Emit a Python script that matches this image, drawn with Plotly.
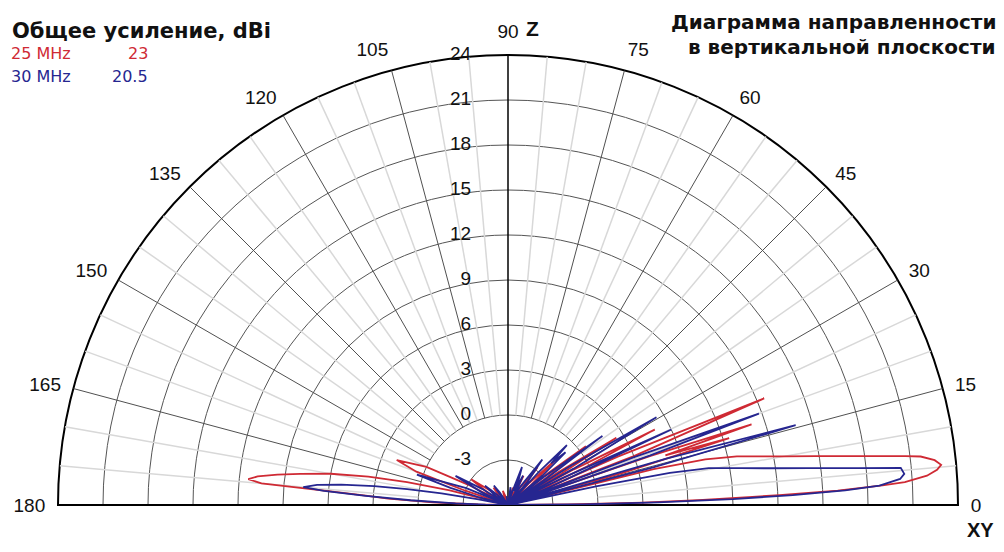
import plotly.graph_objects as go

# ---------------- data ----------------
freq_labels = ["25 MHz", "30 MHz"]
max_gain_labels = ["23", "20.5"]

# 25 MHz pattern (elevation angle, deg / total gain, dBi)
theta_25 = [0, 0.5, 1.0, 1.5, 1.9, 2.1, 2.5, 3.0, 3.3, 4.0, 4.7, 5.3, 6.0, 6.7, 7.0, 8.0, 9.0, 10.0, 11.0, 12.0, 13.0, 13.8, 14.6,
            15.6, 16.8, 17.5, 18.3, 19.0, 19.8,
            21.2, 22.6, 23.8, 25.0,
            26.0, 27.2, 28.4, 29.4,
            30.4, 31.8, 33.2, 34.2,
            35.2, 37.0, 38.8, 40.0,
            41.0, 43.5, 46.0, 47.5,
            49.0, 52.0, 55.0, 57.0,
            59.0, 62.0, 65.0, 67.0,
            70.0, 74.0, 78.0, 82.0,
            90.0, 100.0,
            104.0, 110.0, 116.0, 120.0,
            124.0, 130.0, 135.0, 138.0,
            141.0, 145.0, 149.0, 151.0,
            153.0, 155.0, 158.0, 160.0, 161.5, 163.0,
            165.0, 166.0, 167.2, 168.5, 170.0, 171.5, 172.5, 173.5, 174.3, 175.0, 175.3, 175.6, 176.2, 177.0, 178.0, 179.0, 180.0]
gain_25 = [-6, -2, 3, 7, 10.3, 12.1, 16, 19, 20.5, 22, 22.7, 23, 22.6, 21.7, 20.7, 17.4, 14.8, 12.7, 11, 9.6, 7.5, 4, -6,
           2, 9.4, 5, 11.1, 4, -6,
           3, 12.5, 2, -6,
           0, 5, -1, -6,
           -2, 2.5, -2, -6,
           -3, 0.5, -3, -6,
           -4, -1.5, -4, -6,
           -4.5, -2.8, -4.5, -6,
           -5, -3.8, -5, -6,
           -5.5, -4.8, -5.5, -6,
           -6, -6,
           -5.5, -5, -5.5, -6,
           -5.2, -4.5, -5.2, -6,
           -4.5, -3, -4.5, -6,
           -3, 0, 2, 0.5, -3, -6,
           -6, -2, 0.9, 3.5, 6, 8, 9.5, 10.8, 11.4, 10.5, 7.9, 6, 3.5, 2, -1, -4, -6]

# 30 MHz pattern
theta_30 = [0, 0.5, 1.0, 1.5, 2.0, 2.5, 3.0, 3.8, 4.5, 5.4, 6.0, 7.0, 8.0, 9.0, 10.4, 11.2, 12.0, 12.8,
            13.6, 14.5, 15.5, 16.3, 17.2,
            18.6, 19.2, 20.0, 20.8, 21.8,
            23.0, 24.8, 26.4, 27.8,
            29.0, 30.6, 32.0, 33.2,
            34.5, 36.2, 38.0, 39.2,
            40.5, 42.5, 44.0, 45.5, 47.0, 48.5,
            50.0, 53.0, 56.0, 58.0,
            60.0, 63.0, 65.5, 67.0, 69.8, 72.0, 74.0,
            77.0, 82.0, 86.0,
            95.0, 100.0, 106.0,
            120.0, 123.0, 126.0, 129.0, 131.0,
            136.0, 140.0, 144.0, 146.0,
            148.0, 151.0, 154.0, 156.0,
            158.0, 161.6, 163.5, 165.0, 168.0,
            169.0, 170.0, 171.0, 172.0, 173.0, 174.0, 175.0, 175.6, 176.3, 177.2, 178.3, 179.2, 180.0]
gain_30 = [-6, -1, 4, 9, 13, 16.5, 18.8, 20.2, 20.5, 20.3, 17.5, 14.2, 11.6, 9.7, 7.6, 5, 0, -6,
           -6, 4, 13.9, 5, -6,
           -4, 4, 11.8, 3, -6,
           -3, 6, -2, -6,
           -1, 5.5, -1, -6,
           -3, 1.8, -3, -6,
           -3, -0.8, -2, -0.4, -3, -6,
           -4, -2.2, -4.5, -6,
           -4.8, -3.8, -5, -4.2, -3.3, -5, -6,
           -5.2, -4.8, -6,
           -6, -5.4, -6,
           -6, -5, -4.4, -5.5, -6,
           -5, -4, -5, -6,
           -4, -2, -4, -6,
           -3, 0.4, -2, -4, -6,
           -4, -1.5, 0.8, 3, 5.2, 6.8, 7.7, 6.3, 3.5, 0.5, -2.5, -4.5, -6]

ring_ticks = [-3, 0, 3, 6, 9, 12, 15, 18, 21, 24]
angle_ticks = [0, 15, 30, 45, 60, 75, 90, 105, 120, 135, 150, 165, 180]
minor_angles = [a for a in range(5, 180, 5) if a % 15 != 0]

R_MIN, R_MAX = -6, 24
GRID_START = 0

RED = "#cf2a34"
BLUE = "#262690"
FONT = "Liberation Sans, Arial, sans-serif"
TITLE_FONT = "DejaVu Sans, Liberation Sans, Arial, sans-serif"

# page body has an 8px margin: figure is shifted by OFF
OFF = 8
W, H = 1004 - OFF, 552 - 2 * OFF


def px(x):
    return (x - OFF) / W


def py(y):
    return 1 - (y - OFF) / H


fig = go.Figure()

# light 5-degree spokes
r_minor, t_minor = [], []
for a in minor_angles:
    r_minor += [GRID_START, R_MAX, None]
    t_minor += [a, a, None]
fig.add_trace(go.Scatterpolar(r=r_minor, theta=t_minor, mode="lines",
                              line=dict(color="#d8d8d8", width=1.5),
                              hoverinfo="skip", showlegend=False))

# dark 15-degree spokes
r_major, t_major = [], []
for a in angle_ticks:
    if a in (0, 90, 180):
        continue
    r_major += [GRID_START, R_MAX, None]
    t_major += [a, a, None]
fig.add_trace(go.Scatterpolar(r=r_major, theta=t_major, mode="lines",
                              line=dict(color="#505050", width=1),
                              hoverinfo="skip", showlegend=False))

# base line 0-180 and vertical axis (Z)
fig.add_trace(go.Scatterpolar(r=[R_MAX, R_MIN, R_MAX], theta=[0, 0, 180], mode="lines",
                              line=dict(color="black", width=2),
                              hoverinfo="skip", showlegend=False))
fig.add_trace(go.Scatterpolar(r=[R_MIN, R_MAX], theta=[90, 90], mode="lines",
                              line=dict(color="black", width=1.5),
                              hoverinfo="skip", showlegend=False))

# radial tick labels along the Z axis
fig.add_trace(go.Scatterpolar(r=ring_ticks, theta=[90] * len(ring_ticks), mode="text",
                              text=[str(v) + "\u00a0" * 7 for v in ring_ticks],
                              textposition="middle left",
                              textfont=dict(family=FONT, size=19, color="#111111"),
                              hoverinfo="skip", showlegend=False))

# patterns
fig.add_trace(go.Scatterpolar(r=gain_25, theta=theta_25, mode="lines", name=freq_labels[0],
                              line=dict(color=RED, width=1.8), showlegend=False))
fig.add_trace(go.Scatterpolar(r=gain_30, theta=theta_30, mode="lines", name=freq_labels[1],
                              line=dict(color=BLUE, width=1.8), showlegend=False))

cx0, cx1 = 58, 958
cy_top, cy_bot = 55, 505

fig.update_layout(
    width=W, height=H,
    margin=dict(l=0, r=0, t=0, b=0),
    paper_bgcolor="white",
    plot_bgcolor="white",
    showlegend=False,
    polar=dict(
        domain=dict(x=[px(cx0), px(cx1)], y=[py(cy_bot), py(cy_top)]),
        sector=[0, 180],
        bgcolor="white",
        radialaxis=dict(
            range=[R_MIN, R_MAX],
            tickvals=ring_ticks,
            angle=90,
            showline=False,
            showticklabels=False,
            ticks="",
            showgrid=True, gridcolor="#555555", gridwidth=1,
            layer="below traces",
        ),
        angularaxis=dict(
            tickvals=angle_ticks,
            ticktext=[str(v) for v in angle_ticks],
            direction="counterclockwise", rotation=0,
            showgrid=False,
            showline=True, linecolor="black", linewidth=2,
            ticks="outside", ticklen=8, tickcolor="rgba(0,0,0,0)",
            tickfont=dict(family=FONT, size=19, color="#111111"),
            layer="below traces",
        ),
    ),
)

ann = [
    dict(text="<b>Общее усиление, dBi</b>", x=px(10), y=py(31), xanchor="left", yanchor="middle",
         font=dict(family=TITLE_FONT, size=21, color="#111111")),
    dict(text=freq_labels[0], x=px(9), y=py(53), xanchor="left", yanchor="middle",
         font=dict(family=TITLE_FONT, size=16, color=RED)),
    dict(text=max_gain_labels[0], x=px(150), y=py(53), xanchor="right", yanchor="middle",
         font=dict(family=TITLE_FONT, size=16, color=RED)),
    dict(text=freq_labels[1], x=px(9), y=py(76), xanchor="left", yanchor="middle",
         font=dict(family=TITLE_FONT, size=16, color=BLUE)),
    dict(text=max_gain_labels[1], x=px(150), y=py(76), xanchor="right", yanchor="middle",
         font=dict(family=TITLE_FONT, size=16, color=BLUE)),
    dict(text="<b>Диаграмма направленности</b>", x=px(998), y=py(22), xanchor="right", yanchor="middle",
         font=dict(family=TITLE_FONT, size=20, color="#111111")),
    dict(text="<b>в вертикальной плоскости</b>", x=px(998), y=py(47), xanchor="right", yanchor="middle",
         font=dict(family=TITLE_FONT, size=20, color="#111111")),
    dict(text="<b>Z</b>", x=px(532), y=py(28), xanchor="center", yanchor="middle",
         font=dict(family=FONT, size=21, color="#111111")),
    dict(text="<b>XY</b>", x=px(980), y=py(530), xanchor="center", yanchor="middle",
         font=dict(family=FONT, size=20, color="#111111")),
]
for a in ann:
    a.update(xref="paper", yref="paper", showarrow=False)
fig.update_layout(annotations=ann)

fig.write_html("out.html")
